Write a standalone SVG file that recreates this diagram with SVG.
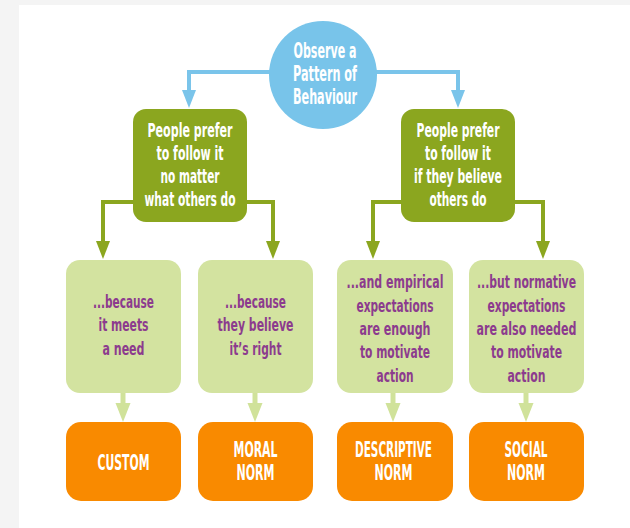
<svg xmlns="http://www.w3.org/2000/svg" width="630" height="528" viewBox="0 0 630 528">
<defs>
<style>
text{font-family:'Liberation Sans Narrow','DejaVu Sans Condensed','Liberation Sans',sans-serif;font-weight:bold;text-anchor:middle}
.w{fill:#ffffff}
.p{fill:#8c3b8e}
.c19{font-size:19px}
.c21{font-size:20.5px}
.c18{font-size:18px}
.dg{fill:#8ba61f}
.lg{fill:#d3e3a0}
.or{fill:#f98a00}
.bl{stroke:#7ac4ea;stroke-width:4;fill:none}
.gl{stroke:#8ba61f;stroke-width:4;fill:none}
.ll{stroke:#d0e29a;stroke-width:5;fill:none}
</style>
</defs>
<rect x="0" y="0" width="630" height="528" fill="#f4f4f4"/>
<rect x="19" y="5" width="611" height="523" fill="#ffffff"/>

<g id="connectors">
  <path class="bl" d="M270,72 H189 V92"/>
  <path d="M182,90 L196,90 L189,108 Z" fill="#7ac4ea"/>
  <path class="bl" d="M376,72 H458 V92"/>
  <path d="M451,90 L465,90 L458,108 Z" fill="#7ac4ea"/>

  <path class="gl" d="M135,202 H103 V243"/>
  <path d="M96,241 L110,241 L103,259 Z" fill="#8ba61f"/>
  <path class="gl" d="M245,202 H273 V243"/>
  <path d="M266,241 L280,241 L273,259 Z" fill="#8ba61f"/>
  <path class="gl" d="M403,202 H373 V243"/>
  <path d="M366,241 L380,241 L373,259 Z" fill="#8ba61f"/>
  <path class="gl" d="M513,202 H543 V243"/>
  <path d="M536,241 L550,241 L543,259 Z" fill="#8ba61f"/>

  <path class="ll" d="M123,392 V405"/>
  <path d="M115.5,403 L130.5,403 L123,422 Z" fill="#d0e29a"/>
  <path class="ll" d="M255,392 V405"/>
  <path d="M247.5,403 L262.5,403 L255,422 Z" fill="#d0e29a"/>
  <path class="ll" d="M393,392 V405"/>
  <path d="M385.5,403 L400.5,403 L393,422 Z" fill="#d0e29a"/>
  <path class="ll" d="M526,392 V405"/>
  <path d="M518.5,403 L533.5,403 L526,422 Z" fill="#d0e29a"/>
</g>

<g id="observe">
  <circle cx="323" cy="75" r="54" fill="#78c4ea"/>
  <text class="w c21" x="325" y="58" textLength="63" lengthAdjust="spacingAndGlyphs">Observe a</text>
  <text class="w c21" x="325" y="81" textLength="64" lengthAdjust="spacingAndGlyphs">Pattern of</text>
  <text class="w c21" x="325" y="104" textLength="64" lengthAdjust="spacingAndGlyphs">Behaviour</text>
</g>

<g id="prefer-no-matter">
  <rect class="dg" x="133" y="109" width="114" height="113" rx="13"/>
  <text class="w c19" x="190" y="137" textLength="85" lengthAdjust="spacingAndGlyphs">People prefer</text>
  <text class="w c19" x="190" y="160" textLength="67" lengthAdjust="spacingAndGlyphs">to follow it</text>
  <text class="w c19" x="190" y="183" textLength="59" lengthAdjust="spacingAndGlyphs">no matter</text>
  <text class="w c19" x="190" y="206" textLength="91" lengthAdjust="spacingAndGlyphs">what others do</text>
</g>

<g id="prefer-if-others">
  <rect class="dg" x="401" y="109" width="114" height="113" rx="13"/>
  <text class="w c19" x="458" y="137" textLength="83" lengthAdjust="spacingAndGlyphs">People prefer</text>
  <text class="w c19" x="458" y="160" textLength="66" lengthAdjust="spacingAndGlyphs">to follow it</text>
  <text class="w c19" x="458" y="183" textLength="88" lengthAdjust="spacingAndGlyphs">if they believe</text>
  <text class="w c19" x="458" y="206" textLength="57" lengthAdjust="spacingAndGlyphs">others do</text>
</g>

<g id="meets-need">
  <rect class="lg" x="66" y="260" width="115" height="133" rx="14"/>
  <text class="p c18" x="123.5" y="308" textLength="61" lengthAdjust="spacingAndGlyphs">...because</text>
  <text class="p c18" x="123.5" y="331" textLength="50" lengthAdjust="spacingAndGlyphs">it meets</text>
  <text class="p c18" x="123.5" y="355" textLength="42" lengthAdjust="spacingAndGlyphs">a need</text>
</g>

<g id="believe-right">
  <rect class="lg" x="198" y="260" width="115" height="133" rx="14"/>
  <text class="p c18" x="255.5" y="308" textLength="61" lengthAdjust="spacingAndGlyphs">...because</text>
  <text class="p c18" x="255.5" y="331" textLength="76" lengthAdjust="spacingAndGlyphs">they believe</text>
  <text class="p c18" x="255.5" y="355" textLength="52" lengthAdjust="spacingAndGlyphs">it’s right</text>
</g>

<g id="empirical">
  <rect class="lg" x="337" y="260" width="116" height="133" rx="14"/>
  <text class="p c18" x="395" y="288" textLength="97" lengthAdjust="spacingAndGlyphs">...and empirical</text>
  <text class="p c18" x="395" y="312" textLength="77" lengthAdjust="spacingAndGlyphs">expectations</text>
  <text class="p c18" x="395" y="335" textLength="71" lengthAdjust="spacingAndGlyphs">are enough</text>
  <text class="p c18" x="395" y="358" textLength="70" lengthAdjust="spacingAndGlyphs">to motivate</text>
  <text class="p c18" x="395" y="382" textLength="37" lengthAdjust="spacingAndGlyphs">action</text>
</g>

<g id="normative">
  <rect class="lg" x="469" y="260" width="115" height="133" rx="14"/>
  <text class="p c18" x="526.5" y="288" textLength="99" lengthAdjust="spacingAndGlyphs">...but normative</text>
  <text class="p c18" x="526.5" y="312" textLength="78" lengthAdjust="spacingAndGlyphs">expectations</text>
  <text class="p c18" x="526.5" y="335" textLength="100" lengthAdjust="spacingAndGlyphs">are also needed</text>
  <text class="p c18" x="526.5" y="358" textLength="71" lengthAdjust="spacingAndGlyphs">to motivate</text>
  <text class="p c18" x="526.5" y="382" textLength="38" lengthAdjust="spacingAndGlyphs">action</text>
</g>

<g id="custom">
  <rect class="or" x="66" y="422" width="115" height="79" rx="15"/>
  <text class="w c21" x="123.5" y="470" textLength="52" lengthAdjust="spacingAndGlyphs">CUSTOM</text>
</g>

<g id="moral-norm">
  <rect class="or" x="198" y="422" width="115" height="79" rx="15"/>
  <text class="w c21" x="255.5" y="457" textLength="44" lengthAdjust="spacingAndGlyphs">MORAL</text>
  <text class="w c21" x="255.5" y="480" textLength="38" lengthAdjust="spacingAndGlyphs">NORM</text>
</g>

<g id="descriptive-norm">
  <rect class="or" x="337" y="422" width="116" height="79" rx="15"/>
  <text class="w c21" x="393.5" y="457" textLength="77" lengthAdjust="spacingAndGlyphs">DESCRIPTIVE</text>
  <text class="w c21" x="393.5" y="480" textLength="38" lengthAdjust="spacingAndGlyphs">NORM</text>
</g>

<g id="social-norm">
  <rect class="or" x="469" y="422" width="115" height="79" rx="15"/>
  <text class="w c21" x="526" y="457" textLength="43" lengthAdjust="spacingAndGlyphs">SOCIAL</text>
  <text class="w c21" x="526" y="480" textLength="38" lengthAdjust="spacingAndGlyphs">NORM</text>
</g>
</svg>
